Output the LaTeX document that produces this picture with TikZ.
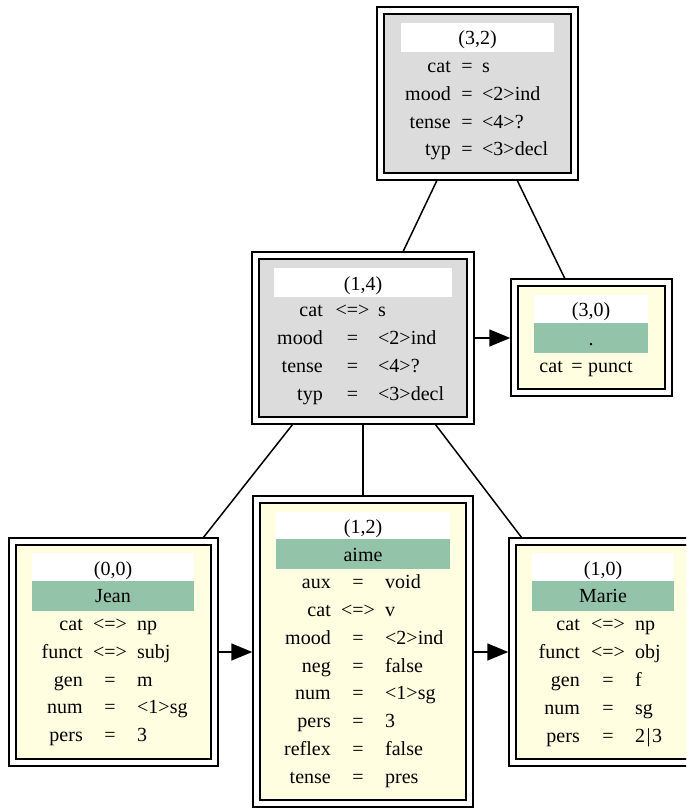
\documentclass[tikz,border=0pt]{standalone}
\usepackage{fontspec}
\setmainfont{Liberation Serif}
\usetikzlibrary{arrows.meta,calc,fit}
\definecolor{boxgray}{HTML}{DCDCDC}
\definecolor{boxyellow}{HTML}{FFFEE0}
\definecolor{bandgreen}{HTML}{93C4AA}
\tikzset{
  txt/.style={inner sep=0pt, font=\fontsize{20}{24}\selectfont},
  outerbox/.style={draw, line width=1.5pt, inner sep=0pt},
  innerbox/.style={draw, line width=1.9pt},
  edge/.style={line width=1.5pt},
  arrowedge/.style={line width=1.5pt, -{Triangle[length=21pt,width=17pt]}},
}
% box: name, x1, y1, x2, y2, fill
\newcommand{\fsbox}[6]{%
  \node[outerbox, fit={(#2,#3) (#4,#5)}] (#1) {};
  \draw[innerbox, fill=#6] ($(#1.north west)+(8,8)$) rectangle ($(#1.south east)+(-8,-8)$);
}
% row: name, baseline y, key right x, sep centre x, value left x, key, sep, value
\newcommand{\fsrow}[8]{%
  \node[txt, anchor=base east] (#1k) at (#3,#2) {#6};
  \node[txt, anchor=base] (#1s) at (#4,#2) {#7};
  \node[txt, anchor=base west] (#1v) at (#5,#2) {#8};
}
\begin{document}
\begin{tikzpicture}[x=1pt, y=-1pt]
\useasboundingbox (0,0) rectangle (686,808);
\clip (0,0) rectangle (686,808);
\fill[white] (0,0) rectangle (686,808);

% (3,2)
\fsbox{n32}{377}{7}{578}{180}{boxgray}
\fill[white] (401,23) rectangle (554,52);
\node[txt, anchor=base] (n32t) at (477.5,45) {(3,2)};
\fsrow{n32a}{73}{451}{467}{482}{cat}{=}{s}
\fsrow{n32b}{100.5}{451}{467}{482}{mood}{=}{<2>ind}
\fsrow{n32c}{128}{451}{467}{482}{tense}{=}{<4>?}
\fsrow{n32d}{155.5}{451}{467}{482}{typ}{=}{<3>decl}

% (1,4)
\fsbox{n14}{252}{252}{474}{424}{boxgray}
\fill[white] (274,268) rectangle (452,297);
\node[txt, anchor=base] (n14t) at (363,290) {(1,4)};
\fsrow{n14a}{316}{323}{352.5}{378}{cat}{<=>}{s}
\fsrow{n14b}{344}{323}{352.5}{378}{mood}{=}{<2>ind}
\fsrow{n14c}{372}{323}{352.5}{378}{tense}{=}{<4>?}
\fsrow{n14d}{400}{323}{352.5}{378}{typ}{=}{<3>decl}

% (3,0)
\fsbox{n30}{511}{279}{672}{396}{boxyellow}
\fill[white] (534,295) rectangle (648,323);
\fill[bandgreen] (534,323) rectangle (648,353);
\node[txt, anchor=base] (n30t) at (591,316) {(3,0)};
\node[txt, anchor=base] (n30w) at (591,345) {.};
\fsrow{n30a}{372}{563}{577}{588}{cat}{=}{punct}

% (0,0)
\fsbox{n00}{9}{538}{218}{766}{boxyellow}
\fill[white] (32,553) rectangle (194,581);
\fill[bandgreen] (32,581) rectangle (194,611);
\node[txt, anchor=base] (n00t) at (113,575) {(0,0)};
\node[txt, anchor=base] (n00w) at (113,602) {Jean};
\fsrow{n00a}{630}{83}{110}{137}{cat}{<=>}{np}
\fsrow{n00b}{658}{83}{110}{137}{funct}{<=>}{subj}
\fsrow{n00c}{686}{83}{110}{137}{gen}{=}{m}
\fsrow{n00d}{713}{83}{110}{137}{num}{=}{<1>sg}
\fsrow{n00e}{741}{83}{110}{137}{pers}{=}{3}

% (1,2)
\fsbox{n12}{253}{496}{473}{807}{boxyellow}
\fill[white] (276,512) rectangle (450,539);
\fill[bandgreen] (276,539) rectangle (450,569);
\node[txt, anchor=base] (n12t) at (363,533) {(1,2)};
\node[txt, anchor=base] (n12w) at (363,561) {aime};
\fsrow{n12a}{588}{331}{358}{385}{aux}{=}{void}
\fsrow{n12b}{616}{331}{358}{385}{cat}{<=>}{v}
\fsrow{n12c}{644}{331}{358}{385}{mood}{=}{<2>ind}
\fsrow{n12d}{672}{331}{358}{385}{neg}{=}{false}
\fsrow{n12e}{699.5}{331}{358}{385}{num}{=}{<1>sg}
\fsrow{n12f}{727.5}{331}{358}{385}{pers}{=}{3}
\fsrow{n12g}{755.5}{331}{358}{385}{reflex}{=}{false}
\fsrow{n12h}{783}{331}{358}{385}{tense}{=}{pres}

% (1,0)
\fsbox{n10}{509}{538}{698}{766}{boxyellow}
\fill[white] (532,553) rectangle (674,581);
\fill[bandgreen] (532,581) rectangle (674,611);
\node[txt, anchor=base] (n10t) at (603,575) {(1,0)};
\node[txt, anchor=base] (n10w) at (603,602) {Marie};
\fsrow{n10a}{630}{580}{608}{635}{cat}{<=>}{np}
\fsrow{n10b}{658}{580}{608}{635}{funct}{<=>}{obj}
\fsrow{n10c}{686}{580}{608}{635}{gen}{=}{f}
\fsrow{n10d}{714}{580}{608}{635}{num}{=}{sg}
\fsrow{n10e}{742}{580}{608}{635}{pers}{=}{2\hspace{1.5pt}|\hspace{1.5pt}3}

% edges
\draw[edge] ($(n32.south west)!0.299!(n32.south east)$) -- ($(n14.north west)!0.68!(n14.north east)$);
\draw[edge] ($(n32.south west)!0.697!(n32.south east)$) -- ($(n30.north west)!0.335!(n30.north east)$);
\draw[edge] ($(n14.south west)!0.184!(n14.south east)$) -- ($(n00.north west)!0.928!(n00.north east)$);
\draw[edge] (n14.south) -- (n14.south |- n12.north);
\draw[edge] ($(n14.south west)!0.825!(n14.south east)$) -- ($(n10.north west)!0.069!(n10.north east)$);
\draw[arrowedge] (n14.east) -- (n14.east -| n30.west);
\draw[arrowedge] (n00.east) -- (n00.east -| n12.west);
\draw[arrowedge] (n12.east |- n10.west) -- (n10.west);
\end{tikzpicture}
\end{document}
